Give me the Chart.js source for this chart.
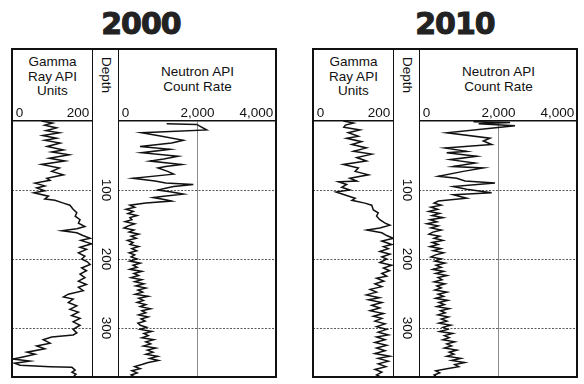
<!DOCTYPE html>
<html>
<head>
<meta charset="utf-8">
<script src="https://cdn.jsdelivr.net/npm/chart.js@4.4.0/dist/chart.umd.min.js"></script>
<style>
  body { margin: 0; background: #fff; width: 584px; height: 384px; position: relative; overflow: hidden;
         font-family: "Liberation Sans", Arial, sans-serif; color: #111; }
  .year { position: absolute; top: 8px; width: 120px; text-align: center; font: bold 30px/31px "DejaVu Sans", sans-serif;
          letter-spacing: -1px; color: #222; -webkit-text-stroke: 1px #222; }
  .frame { position: absolute; top: 48px; width: 266px; height: 330px; border: 2px solid #111; box-sizing: border-box; }
  .depthcol { position: absolute; top: 48px; height: 330px; width: 27px; border-left: 1.5px solid #111; border-right: 1.5px solid #111; box-sizing: border-box; }
  .head { position: absolute; text-align: center; font-size: 13.5px; line-height: 14.5px; }
  .depthhead { position: absolute; top: 57px; writing-mode: vertical-rl; font-size: 13.5px; line-height: 15px; }
  canvas { position: absolute; }
</style>
</head>
<body>
<script>
// depth scale (shared by both logs)
const depthMax = 371;
const depthTicks = [100, 200, 300];

// track scales
const gammaMax = 200;
const gammaTicks = [0, 100, 200];
const gammaTickLabels = ['0', '', '200'];
const neutronMax = 4000;
const neutronTicks = [0, 2000, 4000];
const neutronTickLabels = ['0', '2,000', '4,000'];

const years = ['2000', '2010'];

// [depth, value]
const gamma2000 = [[0,73],[3,100],[6,81],[10,110],[14,84],[17,117],[21,76],[25,110],[28,81],[32,119],[37,87],[42,127],[45,98],[49,141],[54,92],[58,131],[63,73],[68,117],[73,98],[78,127],[83,86],[86,94],[90,57],[94,81],[97,61],[101,81],[104,54],[109,90],[113,81],[115,106],[119,127],[122,143],[128,151],[133,160],[138,156],[143,168],[148,164],[153,180],[156,160],[159,123],[162,160],[166,175],[170,193],[173,170],[178,197],[183,168],[186,184],[191,164],[196,180],[200,172],[204,186],[208,193],[213,172],[217,184],[222,168],[227,180],[232,164],[237,184],[241,164],[246,176],[251,139],[255,127],[258,151],[263,139],[268,160],[273,143],[277,164],[282,147],[286,168],[291,151],[296,168],[302,151],[307,160],[310,151],[313,98],[317,77],[322,94],[326,61],[330,81],[335,37],[338,57],[342,27],[345,2],[348,44],[351,7],[354,20],[356,94],[357,148],[361,156],[364,148],[367,158],[371,151]];

const neutron2000 = [[4,1225],[5,1980],[13,2232],[17,596],[22,1100],[28,1644],[32,1350],[37,553],[41,1308],[46,596],[51,1510],[55,1150],[58,805],[63,1602],[66,1200],[68,1006],[73,1250],[77,1400],[83,377],[87,931],[90,1200],[92,1895],[95,1400],[97,1225],[100,1000],[103,1350],[106,1644],[109,1150],[111,889],[114,1200],[116,1350],[119,700],[122,302],[125,420],[128,200],[131,380],[134,250],[137,480],[140,300],[143,350],[146,180],[149,420],[152,260],[155,150],[158,400],[161,280],[164,520],[167,330],[170,460],[173,240],[176,380],[179,300],[182,520],[185,350],[188,470],[191,280],[194,420],[197,330],[200,480],[203,300],[206,560],[209,380],[212,480],[215,300],[218,600],[221,400],[224,520],[227,330],[230,600],[233,420],[236,650],[239,450],[242,700],[245,500],[248,620],[251,430],[254,760],[257,520],[260,640],[263,480],[266,700],[269,560],[272,820],[275,600],[278,700],[281,520],[284,760],[287,580],[290,680],[293,500],[296,560],[299,720],[302,560],[305,850],[308,650],[311,760],[314,600],[317,900],[320,700],[323,820],[326,640],[329,950],[332,740],[335,880],[338,700],[341,1000],[344,800],[347,1020],[350,760],[353,600],[356,420],[359,560],[362,350],[365,480],[368,330],[371,420]];

const gamma2010 = [[0,75],[3,100],[6,80],[9,76],[13,116],[17,87],[22,112],[25,83],[30,120],[34,96],[39,132],[44,100],[48,145],[53,108],[58,132],[63,75],[68,112],[73,104],[78,137],[83,91],[87,108],[88,63],[92,83],[96,71],[100,91],[103,57],[108,83],[112,104],[115,96],[119,128],[122,145],[129,149],[133,161],[138,157],[143,165],[148,178],[151,190],[155,165],[158,133],[162,170],[166,182],[170,198],[174,170],[179,194],[182,174],[185,186],[189,165],[193,190],[197,170],[200,182],[205,165],[209,194],[213,174],[217,189],[221,170],[225,182],[228,157],[232,175],[236,153],[240,170],[244,141],[248,157],[252,132],[256,164],[259,137],[263,170],[267,145],[271,165],[275,141],[279,174],[283,149],[286,170],[290,153],[294,178],[298,157],[302,182],[306,161],[310,186],[313,157],[317,178],[321,153],[325,182],[329,157],[333,178],[337,153],[341,190],[344,161],[348,186],[352,161],[356,180],[360,153],[364,170],[368,157],[371,167]];

const neutron2010 = [[1,1370],[2,2290],[4,1500],[7,2415],[17,700],[25,1786],[29,1619],[34,1828],[39,654],[44,1199],[46,696],[51,1451],[56,780],[61,1409],[66,864],[68,1619],[73,1115],[80,486],[83,948],[87,1157],[90,1912],[95,864],[99,1199],[104,1828],[107,864],[112,1199],[116,486],[119,380],[122,560],[125,300],[128,470],[131,250],[134,520],[137,330],[140,600],[143,280],[146,450],[149,200],[152,480],[155,300],[158,560],[161,350],[164,250],[167,520],[170,380],[173,600],[176,330],[179,480],[182,280],[185,550],[188,360],[191,620],[194,420],[197,300],[200,560],[203,400],[206,650],[209,430],[212,560],[215,350],[218,620],[221,420],[224,700],[227,480],[230,580],[233,380],[236,650],[239,450],[242,560],[245,400],[248,700],[251,480],[254,620],[257,420],[260,720],[263,500],[266,640],[269,450],[272,760],[275,540],[278,660],[281,480],[284,740],[287,560],[290,700],[293,500],[296,800],[299,600],[302,720],[305,520],[308,850],[311,640],[314,760],[317,600],[320,900],[323,700],[326,820],[329,640],[332,950],[335,760],[338,880],[341,700],[344,1050],[347,820],[350,1150],[353,900],[356,1000],[359,700],[362,420],[365,520],[368,380],[371,450]];

const panels = [
  { left: 12, titleX: 141, gamma: gamma2000, neutron: neutron2000 },
  { left: 313, titleX: 455, gamma: gamma2010, neutron: neutron2010 }
];

const FONT = 'Liberation Sans';

function el(tag, cls, css, html) {
  const e = document.createElement(tag);
  if (cls) e.className = cls;
  Object.assign(e.style, css);
  if (html) e.innerHTML = html;
  document.body.appendChild(e);
  return e;
}

function makeCanvas(left, top, w, h) {
  const c = el('canvas', null, { left: left + 'px', top: top + 'px', width: w + 'px', height: h + 'px' });
  c.width = w; c.height = h;
  return c;
}

function trackChart(canvas, series, max, ticks, labels) {
  return new Chart(canvas, {
    type: 'scatter',
    data: {
      datasets: [{
        data: series.map(p => ({ x: p[1], y: p[0] })),
        showLine: true,
        borderColor: '#111',
        borderWidth: 1.5,
        pointRadius: 0,
        tension: 0
      }]
    },
    options: {
      responsive: false,
      animation: false,
      events: [],
      plugins: { legend: { display: false }, tooltip: { enabled: false } },
      layout: { padding: 0 },
      scales: {
        x: {
          type: 'linear', position: 'top', min: 0, max: max,
          afterBuildTicks: s => { s.ticks = ticks.map(v => ({ value: v })); },
          afterFit: s => { s.height = 21; },
          ticks: {
            align: 'inner', padding: 0, maxRotation: 0, color: '#111',
            font: { family: FONT, size: 13.5 },
            callback: (v, i) => i === 0 ? ' ' + labels[i] : (i === labels.length - 1 ? labels[i] + ' ' : labels[i])
          },
          grid: {
            drawTicks: false, lineWidth: 1,
            color: c => (c.tick && (c.tick.value === 0 || c.tick.value === max)) ? 'rgba(0,0,0,0)' : '#8c8c8c'
          },
          border: { display: true, color: '#111', width: 1.5 }
        },
        y: {
          type: 'linear', reverse: true, min: 0, max: depthMax,
          afterBuildTicks: s => { s.ticks = depthTicks.map(v => ({ value: v })); },
          afterFit: s => { s.width = 0; },
          ticks: { display: false },
          grid: { drawTicks: false, color: '#5a5a5a', lineWidth: 1 },
          border: { display: false, dash: [2, 1.5] }
        }
      }
    }
  });
}

const depthLabels = {
  id: 'depthLabels',
  afterDraw(chart) {
    const { ctx, chartArea } = chart;
    const y = chart.scales.y;
    const cx = (chartArea.left + chartArea.right) / 2 + 0.5;
    ctx.save();
    ctx.font = '13.5px "' + FONT + '"';
    ctx.fillStyle = '#111';
    ctx.textAlign = 'center';
    ctx.textBaseline = 'middle';
    depthTicks.forEach(v => {
      ctx.save();
      ctx.translate(cx, y.getPixelForValue(v));
      ctx.rotate(Math.PI / 2);
      ctx.fillText(String(v), 0, 0);
      ctx.restore();
    });
    ctx.restore();
  }
};

function depthChart(canvas) {
  return new Chart(canvas, {
    type: 'scatter',
    data: { datasets: [{ data: [] }] },
    options: {
      responsive: false, animation: false, events: [],
      plugins: { legend: { display: false }, tooltip: { enabled: false } },
      scales: {
        x: { display: false, min: 0, max: 1 },
        y: { display: false, reverse: true, min: 0, max: depthMax }
      }
    },
    plugins: [depthLabels]
  });
}

panels.forEach((p, k) => {
  const L = p.left;
  el('div', 'year', { left: (p.titleX - 60) + 'px' }, years[k]);
  el('div', 'head', { left: L + 'px', width: '81px', top: '55px' }, 'Gamma<br>Ray API<br>Units');
  el('div', 'head', { left: (L + 106) + 'px', width: '159px', top: '65px' }, 'Neutron API<br>Count Rate');
  el('div', 'depthhead', { left: (L + 86.5) + 'px' }, 'Depth');

  trackChart(makeCanvas(L, 100, 81, 277), p.gamma, gammaMax, gammaTicks, gammaTickLabels);
  trackChart(makeCanvas(L + 106, 100, 159, 277), p.neutron, neutronMax, neutronTicks, neutronTickLabels);
  depthChart(makeCanvas(L + 81, 121, 25, 256));

  el('div', 'frame', { left: (L - 1) + 'px' });
  el('div', 'depthcol', { left: (L + 80) + 'px' });
});
</script>
</body>
</html>
